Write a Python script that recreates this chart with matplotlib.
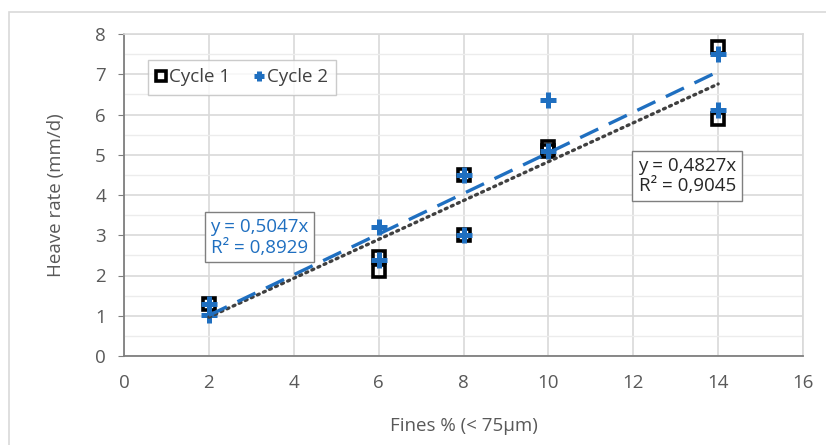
import matplotlib
matplotlib.use("Agg")
import matplotlib.pyplot as plt
from matplotlib.patches import Rectangle
from matplotlib.ticker import MultipleLocator
import numpy as np

plt.rcParams["font.family"] = ["Open Sans", "DejaVu Sans"]

# data
cycle1_x = [2, 6, 6, 8, 8, 10, 10, 14, 14]
cycle1_y = [1.3, 2.45, 2.1, 4.5, 3.0, 5.2, 5.1, 7.68, 5.9]
cycle2_x = [2, 2, 6, 6, 8, 8, 10, 10, 14, 14]
cycle2_y = [1.3, 1.02, 3.2, 2.38, 4.5, 3.0, 6.35, 5.1, 7.5, 6.1]
slopes = [0.4827, 0.5047]
r2 = [0.9045, 0.8929]
series = ["Cycle 1", "Cycle 2"]

blue = "#1f6fc0"
grey_txt = "#595959"
fs = 13.5

fig = plt.figure(figsize=(8.26, 4.45), dpi=100)
fig.patches.append(Rectangle((9 / 826, -0.1), 1.0, 1 - 12 / 445 + 0.1,
                             transform=fig.transFigure, fill=False,
                             edgecolor="#d9d9d9", linewidth=1.2))
ax = fig.add_axes([124 / 826, 1 - 356 / 445, (803 - 124) / 826, (356 - 34) / 445])

ax.set_xlim(0, 16)
ax.set_ylim(0, 8)
ax.xaxis.set_major_locator(MultipleLocator(2))
ax.yaxis.set_major_locator(MultipleLocator(1))
ax.yaxis.set_minor_locator(MultipleLocator(0.5))
ax.grid(True, which="major", color="#d9d9d9", linewidth=1.2, zorder=0)
ax.grid(True, which="minor", axis="y", color="#ececec", linewidth=1.0, zorder=0)
ax.set_axisbelow(True)

for s in ["top", "right"]:
    ax.spines[s].set_color("#d9d9d9")
    ax.spines[s].set_linewidth(1.2)
ax.spines["left"].set_color("#7f7f7f")
ax.spines["bottom"].set_color("#7f7f7f")
ax.spines["left"].set_linewidth(1.3)
ax.spines["bottom"].set_linewidth(1.3)

ax.tick_params(axis="x", which="both", length=0, pad=13, labelsize=fs, labelcolor=grey_txt)
ax.tick_params(axis="y", which="major", length=4, color="#7f7f7f", pad=9,
               labelsize=fs, labelcolor=grey_txt)
ax.tick_params(axis="y", which="minor", length=0)

ax.set_xlabel("Fines % (< 75µm)", fontsize=fs, color=grey_txt, labelpad=18)
ax.set_ylabel("Heave rate (mm/d)", fontsize=fs, color=grey_txt, labelpad=22)

ax.plot(cycle1_x, cycle1_y, linestyle="none", marker="s", markersize=9,
        markerfacecolor="none", markeredgecolor="black", markeredgewidth=2.6,
        label=series[0], zorder=3)
ax.plot(cycle2_x, cycle2_y, linestyle="none", marker="+", markersize=12,
        markeredgecolor=blue, markeredgewidth=3.6, label=series[1], zorder=4)

# trend lines through origin, over the data range
xs1 = np.array([min(cycle1_x), max(cycle1_x)])
xs2 = np.array([min(cycle2_x), max(cycle2_x)])
ax.plot(xs1, slopes[0] * xs1, color="#404040", linewidth=2.4,
        linestyle=(0, (0.6, 1.4)), dash_capstyle="round", zorder=5)
ax.plot(xs2, slopes[1] * xs2, color=blue, linewidth=2.4,
        linestyle=(0, (6, 3.5)), zorder=5)

leg = ax.legend(loc="center", bbox_to_anchor=(0.174, 0.866), ncol=2, fontsize=fs,
                frameon=True, fancybox=False, edgecolor="#bfbfbf",
                handlelength=0.5, handletextpad=0.15, columnspacing=1.3,
                borderpad=0.45, labelcolor="#404040")
leg.get_frame().set_linewidth(1.0)
for h in leg.legend_handles:
    h.set_markersize(7.5)

fmt = lambda v: f"{v:.4f}".replace(".", ",")
ax.text(3.19, 2.95, f"y = {fmt(slopes[1])}x\nR² = {fmt(r2[1])}", color=blue,
        fontsize=fs, ha="center", va="center", linespacing=1.2,
        bbox=dict(boxstyle="square,pad=0.3", facecolor="white", edgecolor="#7f7f7f"),
        zorder=6)
ax.text(13.27, 4.47, f"y = {fmt(slopes[0])}x\nR² = {fmt(r2[0])}", color="#262626",
        fontsize=fs, ha="center", va="center", linespacing=1.2,
        bbox=dict(boxstyle="square,pad=0.3", facecolor="white", edgecolor="#7f7f7f"),
        zorder=6)

fig.savefig("out.png", dpi=100)
